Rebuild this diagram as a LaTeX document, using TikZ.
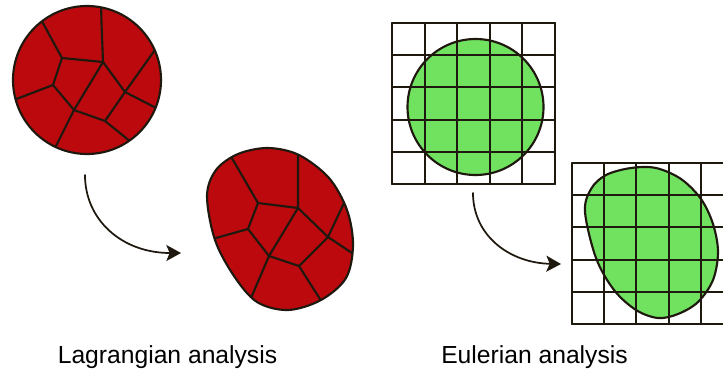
\documentclass[tikz,border=0pt]{standalone}
\usepackage{fontspec}
\setmainfont{Liberation Sans}
\usetikzlibrary{arrows.meta}
\definecolor{cellred}{RGB}{187,9,14}
\definecolor{cellgreen}{RGB}{112,226,96}
\definecolor{ink}{RGB}{30,24,14}
\tikzset{
  edge/.style={ink, line width=1.6pt},
  gridline/.style={ink, line width=1.5pt},
  flowarrow/.style={ink, line width=1.3pt, -{Stealth[length=11pt,width=12pt,inset=2.5pt]}},
  caption/.style={anchor=base, text=black, font=\fontsize{18.5pt}{22pt}\selectfont, inner sep=0pt}
}
\begin{document}
\begin{tikzpicture}[x=0.75pt,y=-0.75pt, line join=round, line cap=round]
\useasboundingbox (0,0) rectangle (723,371);
\clip (0,0) rectangle (723,371);

% ---------- Lagrangian: initial circle ----------
\fill[cellred] (87,80) circle[radius=55.5pt];
\begin{scope}
  \clip (87,80) circle[radius=55.5pt];
  \draw[edge] (101,2) -- (101.5,23) -- (103,62) -- (62,58) -- (38,14);
  \draw[edge] (62,58) -- (53,85) -- (6,103);
  \draw[edge] (53,85) -- (74,110) -- (103,62) -- (125,92) -- (162,40);
  \draw[edge] (125,92) -- (164,112);
  \draw[edge] (125,92) -- (105,121) -- (74,110) -- (51,156);
  \draw[edge] (105,121) -- (136,146);
\end{scope}
\draw[edge] (87,80) circle[radius=55.5pt];

% ---------- Lagrangian: deformed blob ----------
\def\redblob{plot[smooth cycle, tension=0.55] coordinates {(207,196) (216,170) (238,154) (268,148) (299,155) (329,178) (347,210) (353,245) (346,278) (321,300) (288,310) (257,302) (234,276) (215,240)}}
\fill[cellred] \redblob;
\begin{scope}
  \clip \redblob;
  \draw[edge] (226,148) -- (258,203) -- (298,208) -- (298,138);
  \draw[edge] (258,203) -- (248,229) -- (198,243);
  \draw[edge] (248,229) -- (269,256) -- (298,208) -- (328,237) -- (352,186);
  \draw[edge] (328,237) -- (364,261);
  \draw[edge] (328,237) -- (299,266) -- (269,256) -- (245,312);
  \draw[edge] (299,266) -- (327,310);
\end{scope}
\draw[edge] \redblob;

% ---------- Lagrangian arrow ----------
\coordinate (la1) at (85,175);
\coordinate (la2) at (181,253);
\draw[flowarrow] (la1) .. controls (85,220) and (122,253) .. (la2);

% ---------- Eulerian: circle on grid ----------
\fill[cellgreen] (475.5,107) circle[radius=51pt];
\draw[edge] (475.5,107) circle[radius=51pt];
\foreach \i in {0,...,5}{
  \draw[gridline] ({392+32.6*\i},23) -- ({392+32.6*\i},184);
  \draw[gridline] (392,{23+32.2*\i}) -- (555,{23+32.2*\i});
}

% ---------- Eulerian: deformed blob on grid ----------
\def\greenblob{plot[smooth cycle, tension=0.55] coordinates {(585,212) (591,189) (606,175) (631,168) (656,168) (681,179) (701,199) (713,224) (718,252) (713,280) (698,302) (678,314) (658,318) (636,310) (614,290) (596,258)}}
\fill[cellgreen] \greenblob;
\draw[edge] \greenblob;
\foreach \i in {0,...,5}{
  \draw[gridline] ({572+32.2*\i},163) -- ({572+32.2*\i},324);
  \draw[gridline] (572,{163+32.2*\i}) -- (740,{163+32.2*\i});
}

% ---------- Eulerian arrow ----------
\coordinate (ea1) at (473,193);
\coordinate (ea2) at (561,264);
\draw[flowarrow] (ea1) .. controls (473,236) and (510,263) .. (ea2);

% ---------- captions ----------
\node[caption] (lag) at (167.5,363) {Lagrangian analysis};
\node[caption] (eul) at (534.5,363) {Eulerian analysis};
\end{tikzpicture}
\end{document}
